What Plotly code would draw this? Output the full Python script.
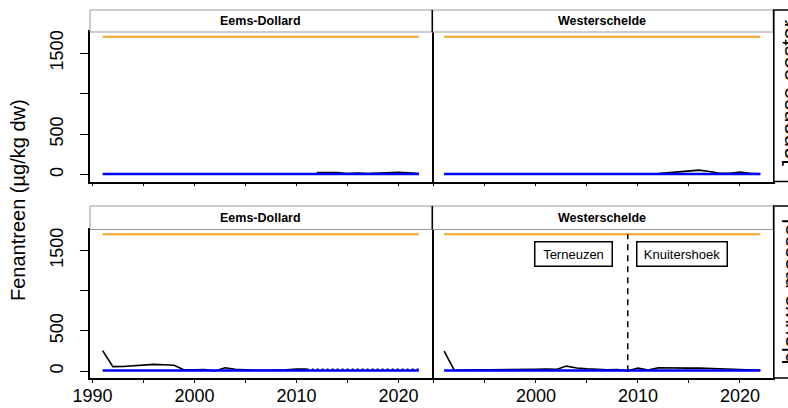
import plotly.graph_objects as go

# ---------------- data ----------------
years_all = list(range(1991, 2023))
norm_orange = 1700          # upper reference value (orange)
norm_blue = 8               # lower reference value (blue)
split_year = 2009           # Terneuzen / Knuitershoek switch

# Japanse oester
ed_oyster_years = list(range(2012, 2023))
ed_oyster_vals = [25, 28, 26, 14, 20, 14, 22, 28, 30, 22, 12]
ws_oyster_years = list(range(2012, 2023))
ws_oyster_vals = [12, 25, 35, 45, 55, 38, 15, 15, 32, 15, 10]

# blauwe mossel
ed_mussel_years = list(range(1991, 2012))
ed_mussel_vals = [255, 56, 58, 66, 76, 84, 80, 74, 15, 20, 20, 2, 42, 24,
                  15, 12, 12, 12, 18, 25, 25]
ed_mussel_dot_years = list(range(2011, 2023))
ed_mussel_dot_vals = [22, 22, 22, 22, 22, 22, 22, 22, 22, 22, 22, 22]
ws_mussel_years = list(range(1991, 2023))
ws_mussel_vals = [248, 10, 15, 15, 20, 15, 18, 20, 15, 22, 25, 22, 63, 40,
                  28, 20, 18, 20, 4, 38, 13, 42, 38, 36, 38, 40, 36, 26,
                  28, 22, 15, 12]

col_labels = ["Eems-Dollard", "Westerschelde"]
row_labels = ["Japanse oester", "blauwe mossel"]
y_title = "Fenantreen (µg/kg dw)"
x_tickvals = [1990, 1995, 2000, 2005, 2010, 2015, 2020]
x_ticktext_left = ["1990", "", "2000", "", "2010", "", "2020"]
x_ticktext_right = ["", "", "2000", "", "2010", "", "2020"]
y_tickvals = [0, 500, 1000, 1500]
y_ticktext = ["0", "500", "", "1500"]
loc_labels = ["Terneuzen", "Knuitershoek"]

# ---------------- layout geometry (pixels) ----------------
W, H = 788, 408
L, M, R = 90, 431.5, 773
top_panel = (32, 181.5)
bot_panel = (229.5, 378)
top_strip = (10, 32)
bot_strip = (206, 229.5)

def px(x):
    return x / W

def py(y):
    return 1 - y / H

FONT = "Liberation Sans, Arial, sans-serif"
BLACK = "#000000"
ORANGE = "#F5A623"
BLUE = "#0000FF"

fig = go.Figure()

panels = [
    ("x", "y", ed_oyster_years, ed_oyster_vals, None),
    ("x2", "y2", ws_oyster_years, ws_oyster_vals, None),
    ("x3", "y3", ed_mussel_years, ed_mussel_vals, (ed_mussel_dot_years, ed_mussel_dot_vals)),
    ("x4", "y4", ws_mussel_years, ws_mussel_vals, None),
]

for xa, ya, xs, ys, dotted in panels:
    fig.add_trace(go.Scatter(x=xs, y=ys, mode="lines", xaxis=xa, yaxis=ya,
                             line=dict(color=BLACK, width=1.6), showlegend=False,
                             hoverinfo="skip"))
    if dotted is not None:
        fig.add_trace(go.Scatter(x=dotted[0], y=dotted[1], mode="lines", xaxis=xa, yaxis=ya,
                                 line=dict(color=BLACK, width=2, dash="2px,3px"),
                                 showlegend=False, hoverinfo="skip"))
    fig.add_trace(go.Scatter(x=years_all, y=[norm_blue] * len(years_all), mode="lines",
                             xaxis=xa, yaxis=ya, line=dict(color=BLUE, width=2.5),
                             showlegend=False, hoverinfo="skip"))
    fig.add_trace(go.Scatter(x=years_all, y=[norm_orange] * len(years_all), mode="lines",
                             xaxis=xa, yaxis=ya, line=dict(color=ORANGE, width=2),
                             showlegend=False, hoverinfo="skip"))

# dashed split line in Westerschelde mussel panel
fig.add_trace(go.Scatter(x=[split_year, split_year], y=[0, norm_orange], mode="lines",
                         xaxis="x4", yaxis="y4",
                         line=dict(color=BLACK, width=1.5, dash="6px,5px"),
                         showlegend=False, hoverinfo="skip"))

xrange = [1989.76, 2023.24]
yrange = [-85, 1760]

def xaxis(dom, anchor, ticktext, show):
    return dict(domain=dom, anchor=anchor, range=xrange, tickvals=x_tickvals,
                ticktext=ticktext, showticklabels=show, ticks="outside", ticklen=3,
                tickwidth=1.3, tickcolor=BLACK, showline=True, mirror=True,
                linecolor=BLACK, linewidth=1.6, showgrid=False, zeroline=False,
                automargin=False,
                tickfont=dict(family=FONT, size=18, color=BLACK),
                ticklabelstandoff=-2)

def yaxis(dom, anchor, left):
    d = dict(domain=dom, anchor=anchor, range=yrange, tickvals=y_tickvals,
             ticktext=y_ticktext, tickangle=-90, showline=True,
             linecolor=BLACK, linewidth=1.6, showgrid=False, zeroline=False,
             automargin=False,
             tickfont=dict(family=FONT, size=18, color=BLACK))
    if left:
        d.update(showticklabels=True, ticks="outside", ticklen=8, tickwidth=1.3,
                 tickcolor=BLACK, mirror=True, ticklabelstandoff=10)
    else:
        d.update(showticklabels=False, ticks="", mirror=False, side="right")
    return d

xl = [px(L), px(M)]
xr = [px(M), px(R)]
yt = [py(top_panel[1]), py(top_panel[0])]
yb = [py(bot_panel[1]), py(bot_panel[0])]

shapes = []
annotations = []
for strip, panel, rlabel in [(top_strip, top_panel, row_labels[0]),
                             (bot_strip, bot_panel, row_labels[1])]:
    shapes.append(dict(type="rect", xref="paper", yref="paper",
                       x0=px(L), x1=px(R), y0=py(strip[1]), y1=py(strip[0]),
                       line=dict(color="#9a9a9a", width=1), fillcolor="white"))
    shapes.append(dict(type="line", xref="paper", yref="paper",
                       x0=px(M + 0.8), x1=px(M + 0.8), y0=py(strip[1]), y1=py(strip[0]),
                       line=dict(color=BLACK, width=1.6)))
    shapes.append(dict(type="rect", xref="paper", yref="paper",
                       x0=px(R + 0.8), x1=px(R + 40), y0=py(panel[1]), y1=py(strip[0]),
                       line=dict(color=BLACK, width=1.6), fillcolor="white"))
    for lab, (a, b) in zip(col_labels, [(L, M), (M, R)]):
        annotations.append(dict(text="<b>%s</b>" % lab, xref="paper", yref="paper",
                                x=px((a + b) / 2), y=py((strip[0] + strip[1]) / 2),
                                showarrow=False, xanchor="center", yanchor="middle",
                                font=dict(family=FONT, size=12.5, color=BLACK)))
    annotations.append(dict(text=rlabel, xref="paper", yref="paper",
                            x=px(R + 2), y=py((strip[0] + panel[1]) / 2),
                            textangle=-90, showarrow=False, xanchor="left",
                            yanchor="middle",
                            font=dict(family=FONT, size=22, color=BLACK)))

annotations.append(dict(text=y_title, xref="paper", yref="paper", x=px(18), y=py(200),
                        textangle=-90, showarrow=False, xanchor="center",
                        yanchor="middle", font=dict(family=FONT, size=20, color=BLACK)))

for lab, xc, wpx in [(loc_labels[0], 2003.7, 74), (loc_labels[1], 2014.35, 87)]:
    annotations.append(dict(text=lab, xref="x4", yref="y4", x=xc, y=1450,
                            showarrow=False, xanchor="center", yanchor="middle",
                            width=wpx, height=21, borderpad=1, bordercolor=BLACK,
                            borderwidth=1.5, bgcolor="white",
                            font=dict(family=FONT, size=13, color=BLACK)))

fig.update_layout(
    template="none",
    width=W, height=H, margin=dict(l=0, r=0, t=0, b=0, pad=0, autoexpand=False),
    paper_bgcolor="white", plot_bgcolor="white",
    xaxis=xaxis(xl, "y", x_ticktext_left, False),
    xaxis2=xaxis(xr, "y2", x_ticktext_right, False),
    xaxis3=xaxis(xl, "y3", x_ticktext_left, True),
    xaxis4=xaxis(xr, "y4", x_ticktext_right, True),
    yaxis=yaxis(yt, "x", True),
    yaxis2=yaxis(yt, "x2", False),
    yaxis3=yaxis(yb, "x3", True),
    yaxis4=yaxis(yb, "x4", False),
    shapes=shapes, annotations=annotations,
)

fig.write_html("out.html", config={"displayModeBar": False},
               post_script="document.body.style.margin='0px';document.body.style.overflow='hidden';")
